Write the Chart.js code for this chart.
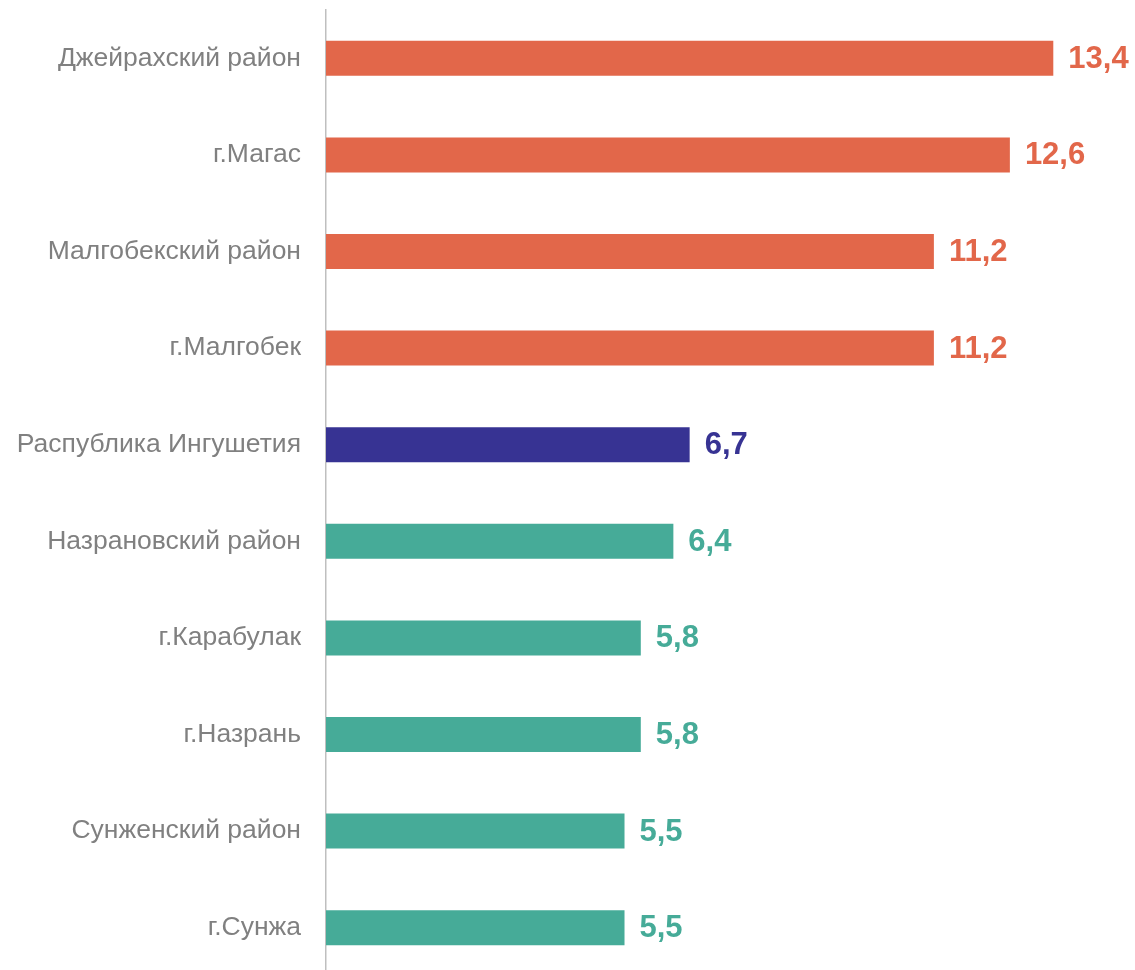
<!DOCTYPE html>
<html>
<head>
<meta charset="utf-8">
<script src="https://cdn.jsdelivr.net/npm/chart.js@4/dist/chart.umd.min.js"></script>
<style>
html,body{margin:0;padding:0;background:#fff;overflow:hidden;}
#wrap{width:1135px;height:980px;}
</style>
</head>
<body>
<div id="wrap"><canvas id="c" width="1135" height="980"></canvas></div>
<script>
const categories = [
  "Джейрахский район",
  "г.Магас",
  "Малгобекский район",
  "г.Малгобек",
  "Распублика Ингушетия",
  "Назрановский район",
  "г.Карабулак",
  "г.Назрань",
  "Сунженский район",
  "г.Сунжа"
];
const values = [13.4, 12.6, 11.2, 11.2, 6.7, 6.4, 5.8, 5.8, 5.5, 5.5];

const ORANGE = "#E2674A", NAVY = "#373393", TEAL = "#46AB98";
const barColors = [ORANGE, ORANGE, ORANGE, ORANGE, NAVY, TEAL, TEAL, TEAL, TEAL, TEAL];

const valueLabels = {
  id: "valueLabels",
  afterDatasetsDraw(chart) {
    const ctx = chart.ctx;
    const meta = chart.getDatasetMeta(0);
    ctx.save();
    ctx.font = "bold 31px 'Liberation Sans', Arial, sans-serif";
    ctx.textAlign = "left";
    ctx.textBaseline = "middle";
    meta.data.forEach((bar, i) => {
      ctx.fillStyle = barColors[i];
      const txt = values[i].toFixed(1).replace(".", ",");
      ctx.fillText(txt, bar.x + 15, bar.y + 1);
    });
    ctx.restore();
  }
};

new Chart(document.getElementById("c"), {
  type: "bar",
  data: {
    labels: categories,
    datasets: [{
      data: values,
      backgroundColor: barColors,
      borderWidth: 0,
      categoryPercentage: 1,
      barPercentage: 0.362
    }]
  },
  options: {
    indexAxis: "y",
    responsive: false,
    animation: false,
    devicePixelRatio: 1,
    layout: { padding: { top: 10, bottom: 4, left: 0, right: 22 } },
    plugins: { legend: { display: false }, tooltip: { enabled: false } },
    scales: {
      x: {
        display: false,
        min: 0,
        max: 14.5
      },
      y: {
        afterFit(scale) { scale.width = 326; scale.paddingTop = 0; scale.paddingBottom = 0; },
        grid: { display: false, drawTicks: false },
        border: { display: true, color: "#BFBFBF", width: 1.5 },
        ticks: {
          color: "#808080",
          padding: 25,
          font: { family: "'Liberation Sans', Arial, sans-serif", size: 26.5 }
        }
      }
    }
  },
  plugins: [valueLabels]
});
</script>
</body>
</html>
